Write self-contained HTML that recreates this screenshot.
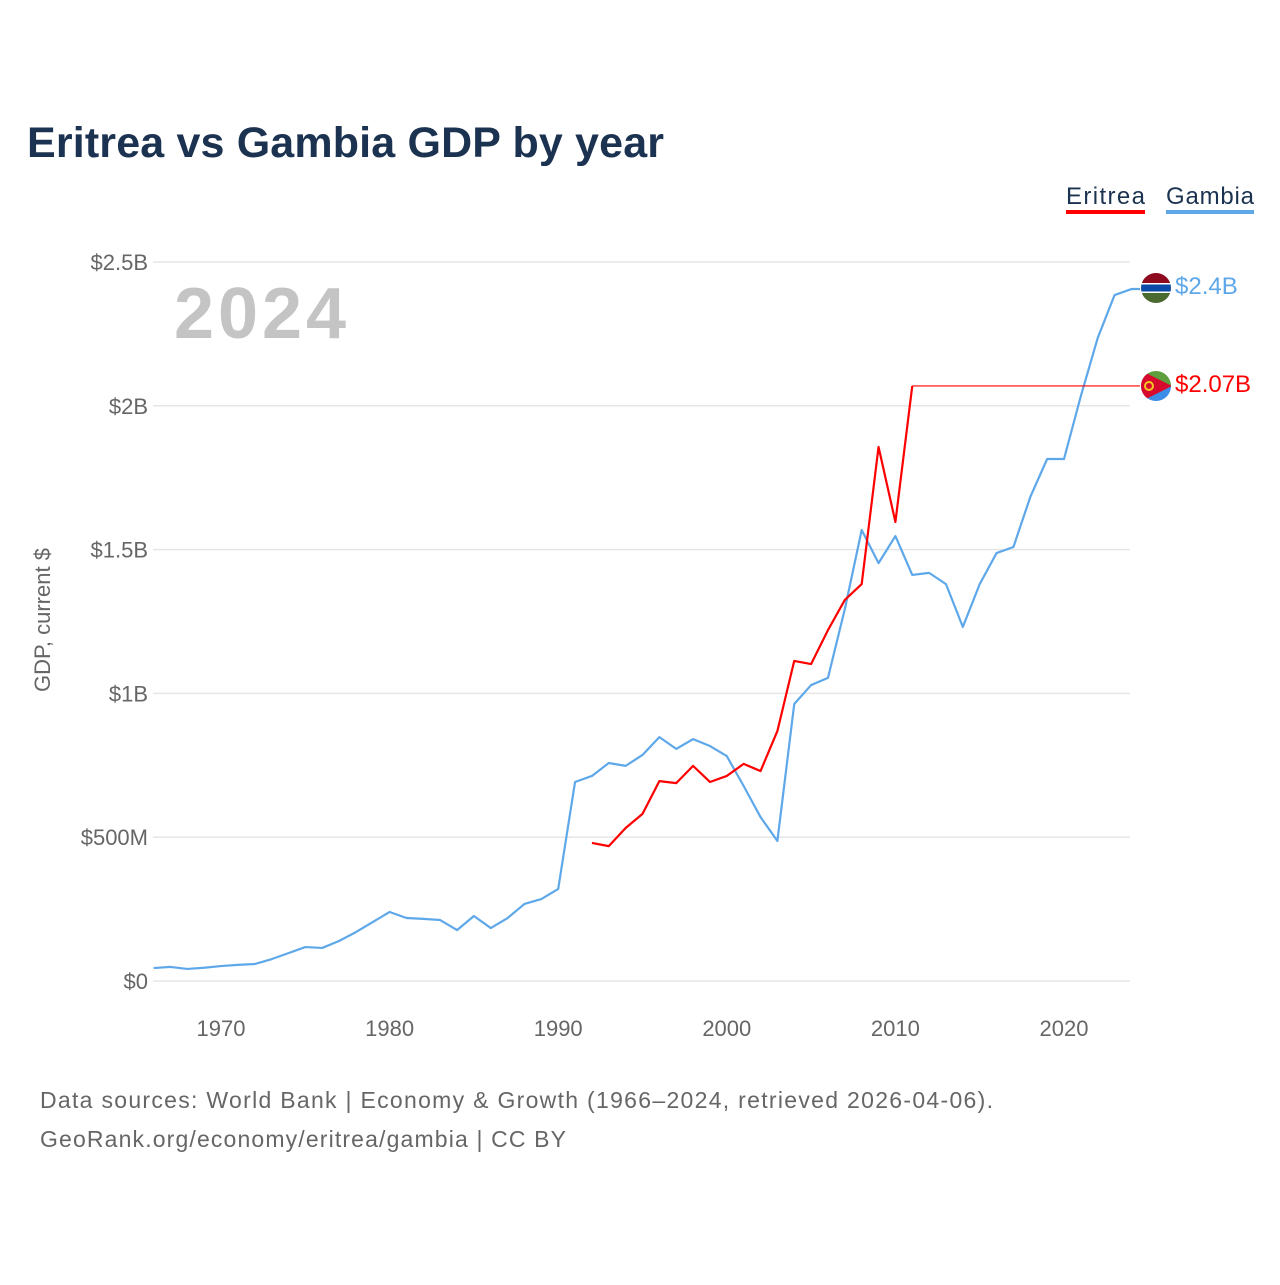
<!DOCTYPE html>
<html><head><meta charset="utf-8"><style>
body{margin:0;background:#fff;width:1280px;height:1280px;overflow:hidden;font-family:"Liberation Sans",sans-serif}
</style></head><body>
<svg width="1280" height="1280" viewBox="0 0 1280 1280" xmlns="http://www.w3.org/2000/svg">
<text x="27" y="157" font-size="43" font-weight="bold" fill="#1b3250" textLength="637">Eritrea vs Gambia GDP by year</text>
<g>
<text x="1066" y="204" font-size="24" fill="#1b3250" textLength="79">Eritrea</text>
<rect x="1066" y="210" width="79" height="4" fill="#ff0000"/>
<text x="1166" y="204" font-size="24" fill="#1b3250" textLength="88">Gambia</text>
<rect x="1166" y="210" width="88" height="4" fill="#5ea8ea"/>
</g>
<text x="174" y="338" font-size="72" font-weight="bold" fill="#c4c4c4" textLength="172">2024</text>
<text transform="translate(50,620) rotate(-90)" text-anchor="middle" font-size="22" fill="#666">GDP, current $</text>
<g id="grid"></g><g id="xt"></g><g id="lines"></g>
<text x="40" y="1108" font-size="23" fill="#666" textLength="953">Data sources: World Bank | Economy &amp; Growth (1966–2024, retrieved 2026-04-06).</text>
<text x="40" y="1147" font-size="23" fill="#666" textLength="526">GeoRank.org/economy/eritrea/gambia | CC BY</text>
<g>
<clipPath id="cg"><circle cx="1156" cy="288" r="15"/></clipPath>
<g clip-path="url(#cg)"><rect x="1140" y="272" width="32" height="11" fill="#8e0a1e"/><rect x="1140" y="283" width="32" height="10" fill="#fff"/><rect x="1140" y="284.5" width="32" height="7" fill="#0a4aa8"/><rect x="1140" y="293" width="32" height="12" fill="#4b6a30"/></g></g>
<g>
<clipPath id="ce"><circle cx="1156" cy="386" r="15"/></clipPath>
<g clip-path="url(#ce)"><rect x="1140" y="370" width="32" height="16" fill="#5f9e3c"/><rect x="1140" y="386" width="32" height="16" fill="#3b8de8"/><polygon points="1140,370 1172,386 1140,402" fill="#d70a2e"/><circle cx="1149" cy="386" r="4" fill="none" stroke="#f6c623" stroke-width="2"/></g></g>
<text x="1175" y="294" font-size="24" fill="#5ea8ea">$2.4B</text>
<text x="1175" y="392" font-size="24" fill="#ff0000">$2.07B</text>
</svg>
<script>
const yTicks=[0,0.5,1,1.5,2,2.5];
const yLabels=["$0","$500M","$1B","$1.5B","$2B","$2.5B"];
const xTicks=[1970,1980,1990,2000,2010,2020];
const gambiaYears=[1966,1967,1968,1969,1970,1971,1972,1973,1974,1975,1976,1977,1978,1979,1980,1981,1982,1983,1984,1985,1986,1987,1988,1989,1990,1991,1992,1993,1994,1995,1996,1997,1998,1999,2000,2001,2002,2003,2004,2005,2006,2007,2008,2009,2010,2011,2012,2013,2014,2015,2016,2017,2018,2019,2020,2021,2022,2023,2024];
const gambiaGDP=[0.045,0.049,0.042,0.046,0.052,0.056,0.059,0.076,0.097,0.118,0.115,0.139,0.170,0.205,0.240,0.219,0.216,0.212,0.177,0.226,0.184,0.219,0.268,0.285,0.320,0.692,0.713,0.758,0.748,0.786,0.848,0.807,0.841,0.817,0.782,0.678,0.570,0.487,0.963,1.029,1.054,1.293,1.568,1.453,1.547,1.412,1.419,1.380,1.231,1.380,1.488,1.509,1.683,1.815,1.815,2.034,2.236,2.385,2.406];
const eritreaYears=[1992,1993,1994,1995,1996,1997,1998,1999,2000,2001,2002,2003,2004,2005,2006,2007,2008,2009,2010,2011];
const eritreaGDP=[0.480,0.469,0.532,0.581,0.695,0.688,0.748,0.692,0.713,0.755,0.730,0.869,1.113,1.102,1.220,1.325,1.380,1.857,1.596,2.069];
const X=y=>221+(y-1970)*(1064-221)/50;
const Y=v=>981-v*(981-262)/2.5;
const NS="http://www.w3.org/2000/svg";
function mk(t,a,p){const e=document.createElementNS(NS,t);for(const k in a)e.setAttribute(k,a[k]);document.getElementById(p).appendChild(e);return e;}
yTicks.forEach((v,i)=>{
 const l=mk('line',{x1:153,x2:1130,y1:Y(v),y2:Y(v),stroke:'#e6e6e6','stroke-width':1.5},'grid');
 
 
 const t=mk('text',{x:148,y:Y(v)+8,'text-anchor':'end','font-size':22,fill:'#666'},'grid');
 t.textContent=yLabels[i];
 
 
});
xTicks.forEach(yr=>{
 const t=mk('text',{x:X(yr),y:1036,'text-anchor':'middle','font-size':22,fill:'#666'},'xt');
 t.textContent=yr;
 
 
});
const gp=gambiaYears.map((y,i)=>X(y)+','+Y(gambiaGDP[i])).join(' ');
const g=mk('polyline',{points:gp+' '+(1140)+','+Y(gambiaGDP[gambiaGDP.length-1]),fill:'none',stroke:'#5ea8ea','stroke-width':2.2,'stroke-linejoin':'round'},'lines');


const ep=eritreaYears.map((y,i)=>X(y)+','+Y(eritreaGDP[i])).join(' ');
const e=mk('polyline',{points:ep,fill:'none',stroke:'#ff0000','stroke-width':2.2,'stroke-linejoin':'round'},'lines');


const last=eritreaGDP[eritreaGDP.length-1];
const c=mk('line',{x1:X(eritreaYears[eritreaYears.length-1]),x2:1140,y1:Y(last),y2:Y(last),stroke:'#ff0000','stroke-width':1.2},'lines');


</script>
</body></html>
